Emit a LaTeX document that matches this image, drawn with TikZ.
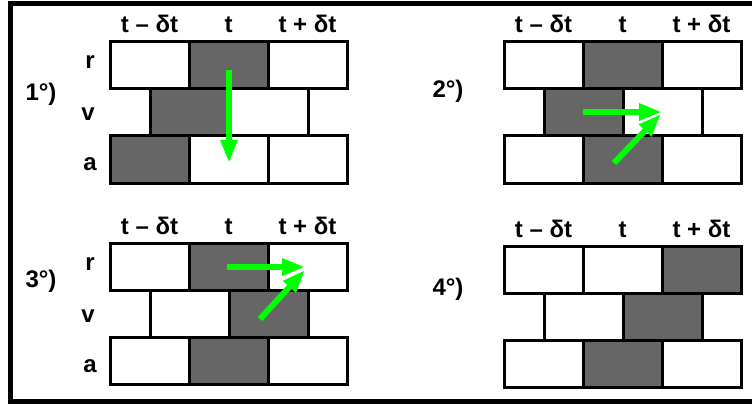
\documentclass[tikz,border=0pt]{standalone}
\usepackage{fontspec}
\setmainfont{Liberation Sans}
\usetikzlibrary{arrows.meta}
\definecolor{cellgray}{HTML}{666666}
\definecolor{flowgreen}{HTML}{00FF00}
\tikzset{cell/.style={draw=black,line width=3pt},
  lbl/.style={inner sep=0pt,anchor=base,font=\fontsize{24}{24}\selectfont\bfseries},
  flow/.style={draw=flowgreen,line width=6pt,-{Triangle[length=23pt,width=16pt]}}}
\begin{document}
\begin{tikzpicture}[x=1pt,y=-1pt]
\useasboundingbox (0,0) rectangle (752,409);
\draw[line width=5pt](752,3.5)--(10.5,3.5)--(10.5,401.5)--(752,401.5);
% the four panels: origin, gray cell of r, v, a, and label position
\foreach \px/\py/\gr/\gv/\ga/\lx/\ly [count=\i] in {110/42/1/0/0/41/101,504/42/1/0/1/448/98,110/243.5/1/1/1/41/287,504/246/2/1/1/448/295}{
\node[lbl](num\i) at (\lx,\ly){\i°)};
\begin{scope}[shift={(\px,\py)}]
\foreach \c in {0,1}{\ifnum\c=\gv\def\fr{cellgray}\else\def\fr{white}\fi\draw[cell,fill=\fr](40+79*\c,47)rectangle++(79,47);}
\foreach \c/\t in {0/t – δt,1/t,2/t + δt}{
\ifnum\c=\gr\def\fr{cellgray}\else\def\fr{white}\fi\draw[cell,fill=\fr](79*\c,0)rectangle++(79,47);
\ifnum\c=\ga\def\fr{cellgray}\else\def\fr{white}\fi\draw[cell,fill=\fr](79*\c,94)rectangle++(79,47);
\node[lbl](hd\i\c) at (79*\c+39.5,-9){\t};}
\ifnum\px=110 \node[lbl](rw\i r) at (-20,27){r};\node[lbl](rw\i v) at (-22,79){v};\node[lbl](rw\i a) at (-20,129){a};\fi
\end{scope}}
% arrows
\coordinate (p1s) at (229,70);\coordinate (p1e) at (229,163);
\coordinate (p2s) at (583,112);\coordinate (p2e) at (662,112);
\coordinate (q2s) at (614,163);\coordinate (q2e) at (661,114);
\coordinate (p3s) at (227,267);\coordinate (p3e) at (305,267);
\coordinate (q3s) at (260,319);\coordinate (q3e) at (305,270);
\foreach \s/\e in {p1s/p1e,p2s/p2e,q2s/q2e,p3s/p3e,q3s/q3e}\draw[flow](\s)--(\e);
\end{tikzpicture}
\end{document}
